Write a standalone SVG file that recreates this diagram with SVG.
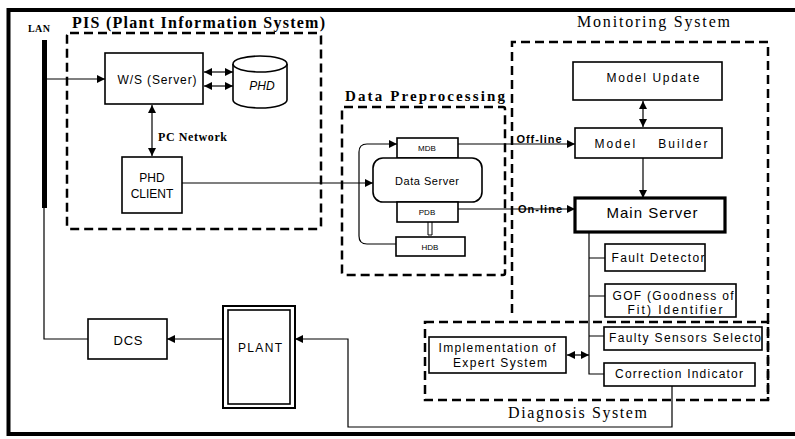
<svg xmlns="http://www.w3.org/2000/svg" width="795" height="439" viewBox="0 0 795 439">
<defs>
<marker id="ah" viewBox="0 0 10 10" refX="10" refY="5" markerWidth="8" markerHeight="8" markerUnits="userSpaceOnUse" orient="auto-start-reverse"><path d="M0,0 L10,5 L0,10 z" fill="#000"/></marker>
<style>
.box{fill:#fff;stroke:#000;stroke-width:1.6}
.dash{fill:none;stroke:#000;stroke-width:2.5;stroke-dasharray:9 5}
.ln{fill:none;stroke:#000;stroke-width:1.2}
.s{font-family:"Liberation Sans",Arial,sans-serif;fill:#000;text-anchor:middle}
.t{font-family:"Liberation Serif","Times New Roman",serif;fill:#000}
</style>
</defs>
<rect width="795" height="439" fill="#fff"/>
<path d="M795 10 H8.5 V434 H795" fill="none" stroke="#000" stroke-width="4"/>

<g id="titles">
<text class="t" x="72" y="28" font-size="16" font-weight="bold" textLength="253" lengthAdjust="spacing">PIS (Plant Information System)</text>
<text class="t" x="577" y="27" font-size="16" textLength="153" lengthAdjust="spacing">Monitoring System</text>
<text class="t" x="345" y="101" font-size="15" font-weight="bold" textLength="160" lengthAdjust="spacing">Data Preprocessing</text>
<text class="t" x="508" y="418" font-size="16" textLength="139" lengthAdjust="spacing">Diagnosis System</text>
</g>

<g id="groups">
<rect class="dash" x="67" y="33" width="254" height="196" rx="3"/>
<rect class="dash" x="342" y="107" width="163" height="168" rx="2"/>
<path class="dash" d="M512 313 V42 H768 V400"/>
<rect class="dash" x="425" y="322" width="343" height="78"/>
</g>

<g id="lan">
<text class="t" x="28" y="32" font-size="10" font-weight="bold" textLength="22" lengthAdjust="spacing">LAN</text>
<rect x="42" y="40" width="5" height="168" fill="#000"/>
</g>

<g id="ws"><rect class="box" x="105" y="53" width="98" height="51"/><text class="s" x="157" y="84" font-size="12" textLength="79" lengthAdjust="spacing">W/S (Server)</text></g>
<g id="phd">
<path d="M233 64 V100 A27 8 0 0 0 287 100 V64" fill="#fff" stroke="#000" stroke-width="1.6"/>
<ellipse cx="260" cy="64" rx="27" ry="8" fill="#fff" stroke="#000" stroke-width="1.6"/>
<text class="s" x="262" y="90" font-size="12" font-style="italic">PHD</text>
</g>
<g id="phdclient"><rect class="box" x="122" y="157" width="60" height="56"/><text class="s" x="152" y="182" font-size="12">PHD</text><text class="s" x="152" y="198" font-size="12">CLIENT</text></g>

<g id="mdb"><rect class="box" x="397" y="138" width="61" height="20"/><text class="s" x="427" y="151" font-size="8">MDB</text></g>
<g id="dataserver"><rect class="box" x="373" y="158" width="109" height="44" rx="10"/><text class="s" x="427" y="185" font-size="11" textLength="64" lengthAdjust="spacing">Data Server</text></g>
<g id="pdb"><rect class="box" x="397" y="202" width="61" height="20"/><text class="s" x="427" y="215" font-size="8">PDB</text></g>
<g id="hdb"><rect class="box" x="396" y="237" width="69" height="19"/><text class="s" x="430" y="250" font-size="8">HDB</text></g>

<g id="modelupdate"><rect class="box" x="573" y="62" width="149" height="38"/><text class="s" x="653" y="82" font-size="12" textLength="93" lengthAdjust="spacing">Model Update</text></g>
<g id="modelbuilder"><rect class="box" x="575" y="128" width="147" height="30"/><text class="s" x="651" y="148" font-size="12" textLength="113" lengthAdjust="spacing" xml:space="preserve">Model    Builder</text></g>
<g id="mainserver"><rect x="575" y="198" width="150" height="34" fill="#fff" stroke="#000" stroke-width="3.2"/><text class="s" x="652" y="218" font-size="15" textLength="91" lengthAdjust="spacing">Main Server</text></g>
<g id="faultdetector"><rect class="box" x="605" y="244" width="100" height="27"/><text class="s" x="658" y="262" font-size="12" textLength="93" lengthAdjust="spacing">Fault Detector</text></g>
<g id="gof"><rect class="box" x="605" y="284" width="131" height="33"/><text class="s" x="673" y="300" font-size="12" textLength="121" lengthAdjust="spacing">GOF (Goodness of</text><text class="s" x="675" y="314" font-size="12" textLength="95" lengthAdjust="spacing">Fit) Identifier</text></g>
<g id="faultysensors"><rect class="box" x="604" y="327" width="158" height="23"/><text class="s" x="685" y="342" font-size="12" textLength="152" lengthAdjust="spacing">Faulty Sensors Selecto</text></g>
<g id="correction"><rect class="box" x="604" y="363" width="151" height="23"/><text class="s" x="679" y="378" font-size="12" textLength="128" lengthAdjust="spacing">Correction Indicator</text></g>
<g id="expert"><rect class="box" x="429" y="337" width="137" height="36"/><text class="s" x="497" y="352" font-size="12" textLength="117" lengthAdjust="spacing">Implementation of</text><text class="s" x="500" y="367" font-size="12" textLength="94" lengthAdjust="spacing">Expert System</text></g>

<g id="dcs"><rect class="box" x="88" y="319" width="79" height="40"/><text class="s" x="128" y="345" font-size="13" textLength="29" lengthAdjust="spacing">DCS</text></g>
<g id="plant"><rect x="223" y="306" width="72" height="102" fill="#fff" stroke="#000" stroke-width="2"/><rect x="228" y="310" width="62" height="94" fill="none" stroke="#000" stroke-width="1.6"/><text class="s" x="260" y="352" font-size="12" textLength="44" lengthAdjust="spacing">PLANT</text></g>

<g id="connectors">
<line class="ln" x1="47" y1="79" x2="105" y2="79" marker-end="url(#ah)"/>
<line class="ln" x1="204" y1="72" x2="233" y2="72" marker-start="url(#ah)" marker-end="url(#ah)"/>
<line class="ln" x1="204" y1="86" x2="233" y2="86" marker-start="url(#ah)" marker-end="url(#ah)"/>
<line class="ln" x1="152" y1="105" x2="152" y2="156" marker-start="url(#ah)" marker-end="url(#ah)"/>
<text class="t" x="158" y="141" font-size="12" font-weight="bold" textLength="69" lengthAdjust="spacing">PC Network</text>
<line class="ln" x1="182" y1="183" x2="373" y2="183" marker-end="url(#ah)"/>
<path class="ln" d="M396 244 H367 Q359 244 359 236 V152 Q359 144 367 144 H397" marker-end="url(#ah)"/>
<path d="M428 222 V235 H432 V222" fill="none" stroke="#000" stroke-width="1"/>
<line class="ln" x1="458" y1="144" x2="575" y2="144" marker-end="url(#ah)"/>
<text class="s" x="539" y="143" font-size="11" font-weight="bold" textLength="45" lengthAdjust="spacing">Off-line</text>
<line class="ln" x1="458" y1="209" x2="575" y2="209" marker-end="url(#ah)"/>
<text class="s" x="540" y="213" font-size="11" font-weight="bold" textLength="44" lengthAdjust="spacing">On-line</text>
<line class="ln" x1="643" y1="101" x2="643" y2="127" marker-start="url(#ah)" marker-end="url(#ah)"/>
<line class="ln" x1="643" y1="158" x2="643" y2="198" marker-end="url(#ah)"/>
<path class="ln" d="M589 232 V374 H604 M589 258 H605 M589 296 H605 M589 336 H604"/>
<line class="ln" x1="567" y1="355" x2="589" y2="355" marker-start="url(#ah)" marker-end="url(#ah)"/>
<path class="ln" d="M672 386 V427 H348 V339 H295" marker-end="url(#ah)"/>
<line class="ln" x1="223" y1="339" x2="167" y2="339" marker-end="url(#ah)"/>
<path class="ln" d="M44 208 V339 H88"/>
</g>
</svg>
